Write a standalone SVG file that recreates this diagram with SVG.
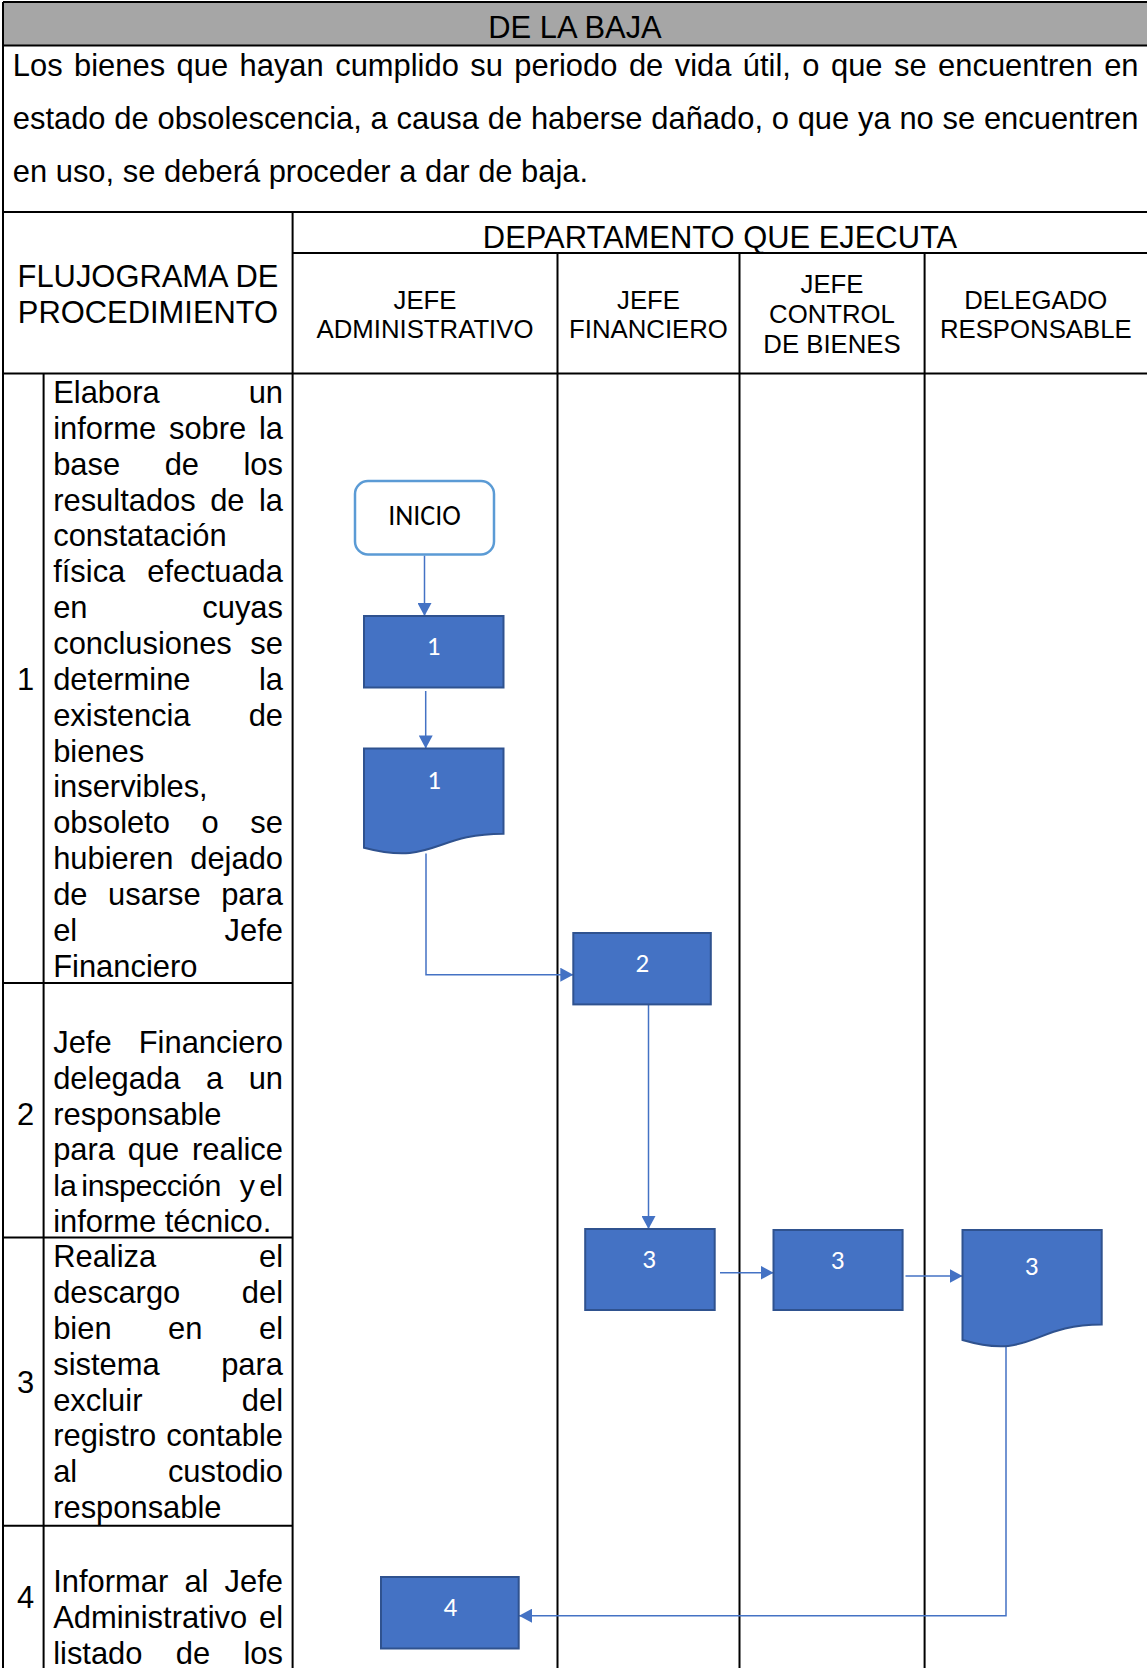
<svg xmlns="http://www.w3.org/2000/svg" width="1147" height="1668" viewBox="0 0 1147 1668">
<defs>
<style>
.tx{font-family:"Liberation Sans",Arial,sans-serif;fill:#000}
.f12{font-size:30.9px}
.f10{font-size:25.75px}
.mid{text-anchor:middle}
.grid line{stroke:#000;stroke-width:2}
.proc{fill:#4472C4;stroke:#2F528F;stroke-width:2}
.term{fill:#fff;stroke:#5B9BD5;stroke-width:2.5}
.lbl{font-family:Carlito,Lato,"Open Sans",sans-serif;font-size:27px;text-anchor:middle}
.big{font-size:28px}
.wl{fill:#fff}
.conn{stroke:#4472C4;stroke-width:1.5;fill:none;marker-end:url(#arr)}
</style>
<marker id="arr" markerUnits="userSpaceOnUse" markerWidth="14" markerHeight="14" refX="13" refY="7" orient="auto">
<path d="M0,0 L13,7 L0,14 Z" fill="#4472C4"/>
</marker>
</defs>
<rect x="0" y="0" width="1147" height="1668" fill="#fff"/>
<rect x="3" y="2" width="1144" height="43.5" fill="#A6A6A6"/>
<g class="grid" id="grid">
<line x1="3" y1="2" x2="1147" y2="2"/>
<line x1="3" y1="45.5" x2="1147" y2="45.5"/>
<line x1="3" y1="212" x2="1147" y2="212"/>
<line x1="292.6" y1="253" x2="1147" y2="253"/>
<line x1="3" y1="373.5" x2="1147" y2="373.5"/>
<line x1="3" y1="983" x2="292.6" y2="983"/>
<line x1="3" y1="1237.4" x2="292.6" y2="1237.4"/>
<line x1="3" y1="1525.8" x2="292.6" y2="1525.8"/>
<line x1="3" y1="2" x2="3" y2="1668"/>
<line x1="43.6" y1="373.5" x2="43.6" y2="1668"/>
<line x1="292.6" y1="212" x2="292.6" y2="1668"/>
<line x1="557.5" y1="253" x2="557.5" y2="1668"/>
<line x1="739.5" y1="253" x2="739.5" y2="1668"/>
<line x1="924.6" y1="253" x2="924.6" y2="1668"/>
</g>
<g id="header-text" class="tx f12">
<text x="575" y="37.5" class="mid">DE LA BAJA</text>
<text y="76"><tspan x="12.8">Los</tspan><tspan x="74.07">bienes</tspan><tspan x="176.56">que</tspan><tspan x="239.56">hayan</tspan><tspan x="335.19">cumplido</tspan><tspan x="470.28">su</tspan><tspan x="514.37">periodo</tspan><tspan x="628.88">de</tspan><tspan x="674.7">vida</tspan><tspan x="742.83">útil,</tspan><tspan x="802.37">o</tspan><tspan x="831.01">que</tspan><tspan x="894.01">se</tspan><tspan x="938.1">encuentren</tspan><tspan x="1104.15">en</tspan></text>
<text y="129"><tspan x="12.8">estado</tspan><tspan x="114.33">de</tspan><tspan x="157.46">obsolescencia,</tspan><tspan x="370.6">a</tspan><tspan x="396.55">causa</tspan><tspan x="487.76">de</tspan><tspan x="530.89">haberse</tspan><tspan x="651.3">dañado,</tspan><tspan x="771.74">o</tspan><tspan x="797.69">que</tspan><tspan x="857.99">ya</tspan><tspan x="899.39">no</tspan><tspan x="942.52">se</tspan><tspan x="983.92">encuentren</tspan></text>
<text x="12.8" y="182">en uso, se deberá proceder a dar de baja.</text>
<text x="720" y="248" class="mid">DEPARTAMENTO QUE EJECUTA</text>
<text x="148" y="286.6" class="mid">FLUJOGRAMA DE</text>
<text x="148" y="322.6" class="mid">PROCEDIMIENTO</text>
</g>
<g id="lane-headers" class="tx f10 mid">
<text x="425" y="309.2">JEFE</text>
<text x="425" y="338">ADMINISTRATIVO</text>
<text x="648.5" y="309.2">JEFE</text>
<text x="648.5" y="338">FINANCIERO</text>
<text x="832" y="293.3">JEFE</text>
<text x="832" y="323.1">CONTROL</text>
<text x="832" y="352.9">DE BIENES</text>
<text x="1035.8" y="309.2">DELEGADO</text>
<text x="1035.8" y="338">RESPONSABLE</text>
</g>
<g id="steps" class="tx f12">
<text x="25.5" y="689.8" class="mid">1</text>
<text x="25.5" y="1124.5" class="mid">2</text>
<text x="25.5" y="1392.7" class="mid">3</text>
<text x="25.5" y="1607.5" class="mid">4</text>
<text y="403"><tspan x="53.2">Elabora</tspan><tspan x="248.64">un</tspan></text>
<text y="438.85"><tspan x="53.2">informe</tspan><tspan x="168.95">sobre</tspan><tspan x="258.96">la</tspan></text>
<text y="474.7"><tspan x="53.2">base</tspan><tspan x="164.67">de</tspan><tspan x="243.51">los</tspan></text>
<text y="510.55"><tspan x="53.2">resultados</tspan><tspan x="210.17">de</tspan><tspan x="258.96">la</tspan></text>
<text y="546.4" x="53.2">constatación</text>
<text y="582.25"><tspan x="53.2">física</tspan><tspan x="147.29">efectuada</tspan></text>
<text y="618.1"><tspan x="53.2">en</tspan><tspan x="202.29">cuyas</tspan></text>
<text y="653.95"><tspan x="53.2">conclusiones</tspan><tspan x="250.37">se</tspan></text>
<text y="689.8"><tspan x="53.2">determine</tspan><tspan x="258.96">la</tspan></text>
<text y="725.65"><tspan x="53.2">existencia</tspan><tspan x="248.64">de</tspan></text>
<text y="761.5" x="53.2">bienes</text>
<text y="797.35" x="53.2">inservibles,</text>
<text y="833.2"><tspan x="53.2">obsoleto</tspan><tspan x="201.6">o</tspan><tspan x="250.37">se</tspan></text>
<text y="869.05"><tspan x="53.2">hubieren</tspan><tspan x="190.24">dejado</tspan></text>
<text y="904.9"><tspan x="53.2">de</tspan><tspan x="108">usarse</tspan><tspan x="221.17">para</tspan></text>
<text y="940.75"><tspan x="53.2">el</tspan><tspan x="224.6">Jefe</tspan></text>
<text y="976.6" x="53.2">Financiero</text>
<text y="1052.8"><tspan x="53.2">Jefe</tspan><tspan x="138.76">Financiero</tspan></text>
<text y="1088.65"><tspan x="53.2">delegada</tspan><tspan x="205.89">a</tspan><tspan x="248.64">un</tspan></text>
<text y="1124.5" x="53.2">responsable</text>
<text y="1160.35"><tspan x="53.2">para</tspan><tspan x="127.75">que</tspan><tspan x="192">realice</tspan></text>
<text y="1196.2" style="font-size:30.4px"><tspan x="53.2">la</tspan><tspan x="81.37" style="letter-spacing:-0.4px">inspección</tspan><tspan x="239.64">y</tspan><tspan x="259.35">el</tspan></text>
<text y="1232.05" x="53.2">informe técnico.</text>
<text y="1267.2"><tspan x="53.2">Realiza</tspan><tspan x="258.96">el</tspan></text>
<text y="1303.05"><tspan x="53.2">descargo</tspan><tspan x="241.78">del</tspan></text>
<text y="1338.9"><tspan x="53.2">bien</tspan><tspan x="168.1">en</tspan><tspan x="258.96">el</tspan></text>
<text y="1374.75"><tspan x="53.2">sistema</tspan><tspan x="221.17">para</tspan></text>
<text y="1410.6"><tspan x="53.2">excluir</tspan><tspan x="241.78">del</tspan></text>
<text y="1446.45"><tspan x="53.2">registro</tspan><tspan x="166.2">contable</tspan></text>
<text y="1482.3"><tspan x="53.2">al</tspan><tspan x="167.93">custodio</tspan></text>
<text y="1518.15" x="53.2">responsable</text>
<text y="1591.8"><tspan x="53.2">Informar</tspan><tspan x="184.4">al</tspan><tspan x="224.6">Jefe</tspan></text>
<text y="1627.65"><tspan x="53.2">Administrativo</tspan><tspan x="258.96">el</tspan></text>
<text y="1663.5"><tspan x="53.2">listado</tspan><tspan x="175.83">de</tspan><tspan x="243.51">los</tspan></text>
</g>
<g id="connectors">
<line class="conn" x1="424.5" y1="555.5" x2="424.5" y2="616"/>
<line class="conn" x1="425.7" y1="691" x2="425.7" y2="748.4"/>
<polyline class="conn" points="426,853.5 426,974.7 573.3,974.7"/>
<line class="conn" x1="648.5" y1="1004.4" x2="648.5" y2="1229"/>
<line class="conn" x1="720" y1="1272.7" x2="773.5" y2="1272.7"/>
<line class="conn" x1="905.5" y1="1276" x2="962.5" y2="1276"/>
<polyline class="conn" points="1006,1346 1006,1615.7 519,1615.7"/>
</g>
<g id="n-inicio">
<rect class="term" x="355" y="481" width="139" height="73.5" rx="13"/>
<text class="lbl big" x="424.5" y="524.5">INICIO</text>
</g>
<g id="n-p1">
<rect class="proc" x="364" y="616" width="139.5" height="71.5"/>
<text class="lbl wl" x="433.5" y="654.5">1</text>
</g>
<g id="n-d1">
<path class="proc" d="M364,748.4 H503.5 V833.65 C433.75,833.65 433.75,866.13 364,847.69 Z"/>
<text class="lbl wl" x="434" y="789">1</text>
</g>
<g id="n-p2">
<rect class="proc" x="573.3" y="933" width="137.5" height="71.4"/>
<text class="lbl wl" x="642.3" y="972">2</text>
</g>
<g id="n-p3a">
<rect class="proc" x="585.2" y="1229" width="129.5" height="81"/>
<text class="lbl wl" x="649" y="1268">3</text>
</g>
<g id="n-p3b">
<rect class="proc" x="773.5" y="1230" width="129.1" height="80"/>
<text class="lbl wl" x="837.6" y="1268.5">3</text>
</g>
<g id="n-d3">
<path class="proc" d="M962.5,1230 H1101.7 V1324.48 C1032.1,1324.48 1032.1,1360.46 962.5,1340.03 Z"/>
<text class="lbl wl" x="1031.7" y="1275">3</text>
</g>
<g id="n-p4">
<rect class="proc" x="381" y="1577" width="137.7" height="71.5"/>
<text class="lbl wl" x="450.4" y="1616">4</text>
</g>
</svg>
